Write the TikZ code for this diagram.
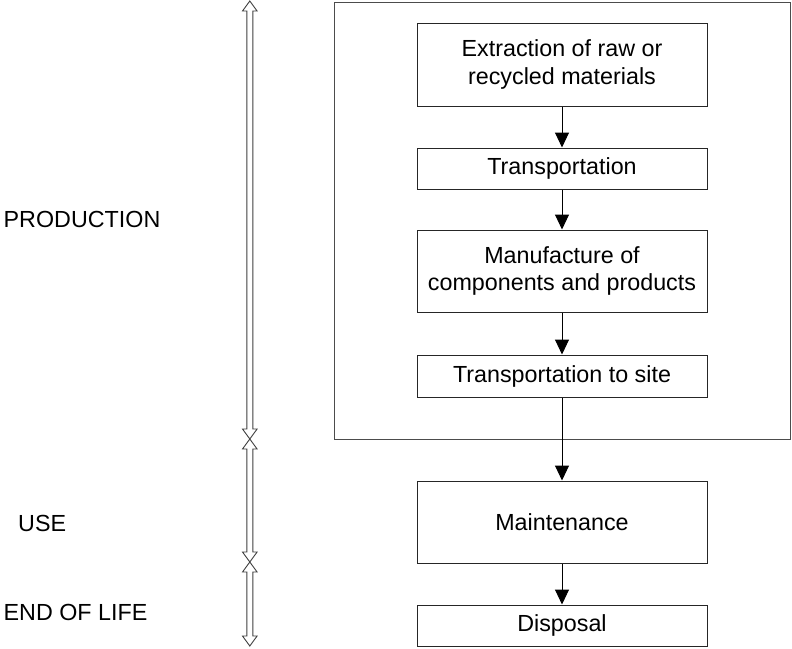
\documentclass[tikz,border=0pt]{standalone}
\usepackage{fontspec}
\setmainfont{Liberation Sans}
\usetikzlibrary{arrows.meta}
\newcommand\phasearrow[3]{% x, top tip y, bottom tip y
  \draw[phase] (#1-3,#2+10) -- (#1-7.3,#2+10) -- (#1,#2) -- (#1+7.3,#2+10) -- (#1+3,#2+10)
    -- (#1+3,#3-10) -- (#1+7.3,#3-10) -- (#1,#3) -- (#1-7.3,#3-10) -- (#1-3,#3-10) -- cycle;}
\begin{document}
\begin{tikzpicture}[x=1pt,y=-1pt,
  every node/.style={font=\fontsize{23.3}{27.5}\selectfont},
  stage/.style={draw=black!85, line width=1pt, minimum width=290pt, align=center, inner sep=0pt},
  frame/.style={draw=black!70, line width=1pt, minimum width=456pt, minimum height=437pt, inner sep=0pt},
  phase/.style={draw=black!75, line width=0.9pt, fill=white},
  flow/.style={line width=1pt, -{Triangle[width=14pt,length=15pt]}},
  lbl/.style={anchor=west, inner sep=0pt}]
\useasboundingbox (0,0) rectangle (792,648);
\fill[white] (0,0) rectangle (792,648);
\node[frame] (outer) at (562,220.5) {};
\node[stage, minimum height=83pt] (ext) at (562,64.5) {Extraction of raw or\\recycled materials};
\node[stage, minimum height=41pt] (tr) at (562,168.5) {Transportation};
\node[stage, minimum height=82pt] (man) at (562,271) {Manufacture of\\components and products};
\node[stage, minimum height=42pt] (site) at (562,376) {Transportation to site};
\node[stage, minimum height=82pt] (mnt) at (562,522) {Maintenance};
\node[stage, minimum height=41pt] (disp) at (562,625.5) {Disposal};
\draw[flow] (ext) -- (tr);
\draw[flow] (tr) -- (man);
\draw[flow] (man) -- (site);
\draw[flow] (site) -- (mnt);
\draw[flow] (mnt) -- (disp);
\phasearrow{249.8}{1}{439}
\phasearrow{249.8}{439}{562}
\phasearrow{249.8}{562}{646}
\node[lbl] (lprod) at (3.5,219) {PRODUCTION};
\node[lbl] (luse) at (18,523) {USE};
\node[lbl] (leol) at (3.5,612) {END OF LIFE};
\end{tikzpicture}
\end{document}
